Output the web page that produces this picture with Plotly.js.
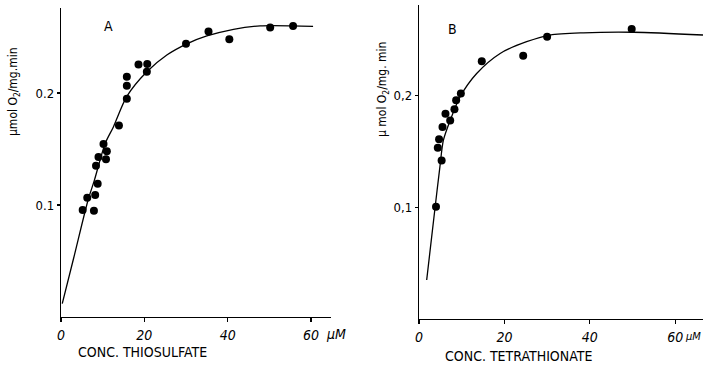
<!DOCTYPE html>
<html>
<head>
<meta charset="utf-8">
<script src="https://cdn.plot.ly/plotly-3.0.1.min.js"></script>
<style>html,body{margin:0;padding:0;background:#fff;}#chart{width:703px;height:367px;}</style>
</head>
<body>
<div id="chart"></div>
<script>
// Panel A: thiosulfate
const thioX = [5.2, 6.3, 7.9, 8.2, 8.4, 8.8, 9.0, 10.2, 10.8, 11.0, 13.9, 15.8, 15.8, 15.8, 18.6, 20.7, 20.6, 30.0, 35.4, 40.4, 50.2, 55.7];
const thioY = [0.0955, 0.1065, 0.095, 0.109, 0.135, 0.119, 0.143, 0.1545, 0.141, 0.148, 0.171, 0.2065, 0.2145, 0.195, 0.2255, 0.226, 0.219, 0.244, 0.255, 0.248, 0.2585, 0.260];
const thioFitX = [0.3, 3.0, 6.5, 8.0, 10.6, 12.6, 15.8, 20.6, 25.4, 30.2, 35.0, 41.4, 47.8, 55.7, 60.5];
const thioFitY = [0.012, 0.052, 0.1045, 0.122, 0.155, 0.170, 0.197, 0.219, 0.234, 0.244, 0.251, 0.257, 0.260, 0.260, 0.2595];

// Panel B: tetrathionate
const tetraX = [3.98, 4.4, 4.7, 5.3, 5.5, 6.2, 7.3, 8.3, 8.7, 9.8, 14.7, 24.4, 30.0, 49.8];
const tetraY = [0.1006, 0.1535, 0.161, 0.142, 0.172, 0.184, 0.178, 0.188, 0.196, 0.202, 0.231, 0.236, 0.253, 0.260];
const tetraFitX = [1.8, 3.75, 4.9, 5.7, 7.3, 9.6, 13.5, 19.0, 25.2, 30.7, 38.5, 50.2, 66.5];
const tetraFitY = [0.035, 0.0995, 0.1365, 0.160, 0.178, 0.199, 0.220, 0.238, 0.2485, 0.2545, 0.2565, 0.257, 0.2545];

const xTickVals = [0, 20, 40, 60];
const xTickText = ["0", "20", "40", "60"];
const yTickValsA = [0.1, 0.2];
const yTickTextA = ["0.1", "0.2"];
const yTickValsB = [0.1, 0.2];
const yTickTextB = ["0,1", "0,2"];

const W = 703, H = 367;
const fx = p => p / W;
const fy = p => 1 - p / H;
const FONT = "'Liberation Sans Narrow', 'DejaVu Sans Condensed', 'Liberation Sans', sans-serif";

const markerStyle = {color: '#000', size: 8};
const lineStyle = {color: '#000', width: 1.3, shape: 'spline', smoothing: 0.8};

const traces = [
  {x: thioFitX, y: thioFitY, mode: 'lines', line: lineStyle, xaxis: 'x', yaxis: 'y', hoverinfo: 'skip'},
  {x: thioX, y: thioY, mode: 'markers', marker: markerStyle, xaxis: 'x', yaxis: 'y'},
  {x: tetraFitX, y: tetraFitY, mode: 'lines', line: lineStyle, xaxis: 'x2', yaxis: 'y2', hoverinfo: 'skip'},
  {x: tetraX, y: tetraY, mode: 'markers', marker: markerStyle, xaxis: 'x2', yaxis: 'y2'}
];

const axCommon = {
  showgrid: false, zeroline: false, showline: true, linecolor: '#000', linewidth: 1.3,
  ticks: 'outside', ticklen: 4, tickcolor: '#000', tickwidth: 1.2, fixedrange: true
};
const xTickFont = {family: FONT, size: 14, color: '#000', style: 'italic'};
const yTickFont = {family: FONT, size: 13, color: '#000'};

const layout = {
  width: W, height: H,
  margin: {l: 0, r: 0, t: 0, b: 0},
  paper_bgcolor: '#fff', plot_bgcolor: 'rgba(0,0,0,0)',
  showlegend: false,
  font: {family: FONT, color: '#000'},
  xaxis: Object.assign({}, axCommon, {domain: [fx(61), fx(331)], range: [0, 64.8], tickmode: 'array', tickvals: xTickVals, ticktext: xTickText, tickfont: xTickFont, ticklabelstandoff: 1, anchor: 'y'}),
  yaxis: Object.assign({}, axCommon, {domain: [fy(317), fy(8)], range: [0, 0.276], tickmode: 'array', tickvals: yTickValsA, ticktext: yTickTextA, tickfont: yTickFont, ticklen: 3, anchor: 'x'}),
  xaxis2: Object.assign({}, axCommon, {domain: [fx(419), 1], range: [0, 66.5], tickmode: 'array', tickvals: xTickVals, ticktext: xTickText, tickfont: xTickFont, ticklabelstandoff: 1, anchor: 'y2'}),
  yaxis2: Object.assign({}, axCommon, {domain: [fy(319), fy(5)], range: [0, 0.2814], tickmode: 'array', tickvals: yTickValsB, ticktext: yTickTextB, tickfont: yTickFont, ticklen: 3, anchor: 'x2'}),
  annotations: [
    {text: 'A', x: fx(108), y: fy(26)},
    {text: 'B', x: fx(452), y: fy(29)},
    {text: 'μmol O<sub>2</sub>/mg.min', x: fx(14), y: fy(92), textangle: -90, font: {size: 12}},
    {text: 'μ mol O<sub>2</sub>/mg. min', x: fx(383), y: fy(90), textangle: -90, font: {size: 12}},
    {text: 'CONC. THIOSULFATE', x: fx(142), y: fy(352)},
    {text: 'CONC. TETRATHIONATE', x: fx(518), y: fy(356)},
    {text: 'μM', x: fx(324), xanchor: 'left', y: fy(334), font: {size: 14, style: 'italic'}},
    {text: 'μM', x: 1, xanchor: 'right', y: fy(336), font: {size: 11, style: 'italic'}}
  ].map(a => Object.assign({xref: 'paper', yref: 'paper', showarrow: false, xanchor: 'center', yanchor: 'middle', font: {size: 14}}, a))
};

Plotly.newPlot('chart', traces, layout, {displayModeBar: false, staticPlot: true});
</script>
</body>
</html>
